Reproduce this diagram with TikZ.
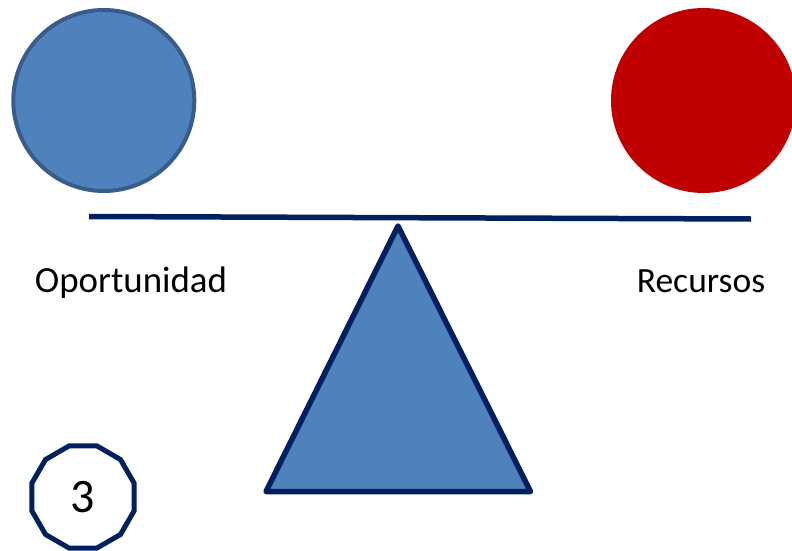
\documentclass[tikz,border=0pt]{standalone}
\usepackage{fontspec}
\setmainfont{Carlito}
\usetikzlibrary{shapes.geometric}
\definecolor{fillblue}{HTML}{4F81BD}
\definecolor{edgeblue}{HTML}{385D8A}
\definecolor{navy}{HTML}{002060}
\definecolor{darkred}{HTML}{C00000}
\tikzset{
  ball/.style={circle, inner sep=0pt, minimum size=#1},
  label/.style={inner sep=0pt, anchor=base},
}
\begin{document}
\begin{tikzpicture}[x=1pt,y=-1pt]
\useasboundingbox (0,0) rectangle (792,551);
% circles
\node[ball=181pt, fill=fillblue, draw=edgeblue, line width=4pt] (opp) at (103.8,100.5) {};
\node[ball=185pt, fill=darkred] (rec) at (703.5,100.5) {};
% beam
\coordinate (beamL) at (89,216.5);
\coordinate (beamR) at (751,219);
\draw[navy, line width=5.5pt] (beamL) -- (beamR);
% fulcrum
\coordinate (apex) at (398,226);
\coordinate (bl) at (266,491.5);
\coordinate (br) at (530.5,491.5);
\draw[navy, fill=fillblue, line width=5.5pt, line join=round] (apex) -- (bl) -- (br) -- cycle;
% labels
\node[label, font=\fontsize{36.9}{40}\selectfont] (t1) at (131,292) {Oportunidad};
\node[label, font=\fontsize{35.5}{40}\selectfont] (t2) at (701,292) {Recursos};
% number
\node[regular polygon, regular polygon sides=12, draw=navy, line width=5pt, inner sep=0pt, minimum size=106pt, font=\fontsize{48}{52}\selectfont] (num) at (83,497) {3};
\end{tikzpicture}
\end{document}
